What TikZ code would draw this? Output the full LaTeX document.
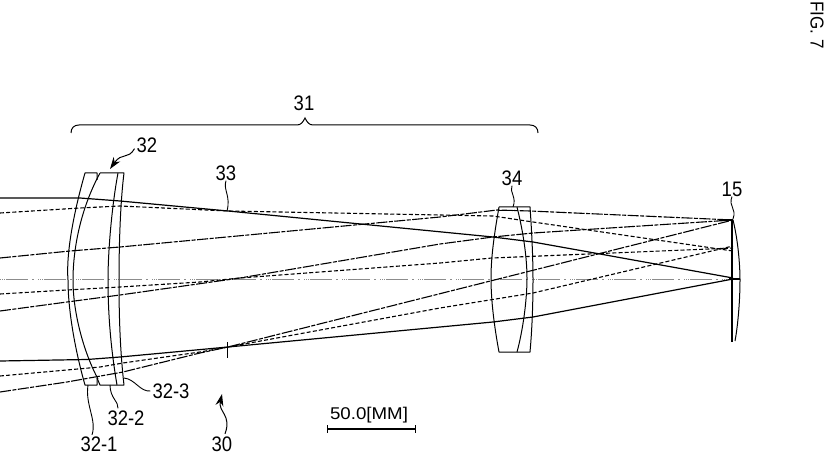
\documentclass[tikz,border=0pt]{standalone}
\usepackage{fontspec}
\setmainfont{Liberation Sans}
\usetikzlibrary{arrows.meta,decorations.pathreplacing}
\tikzset{
 lens/.style={line width=1pt,black,line join=round},
 rayA/.style={line width=1.2pt,black},
 rayB/.style={line width=1.1pt,black,dash pattern=on 11pt off 1.5pt on 4pt off 1.5pt},
 rayC/.style={line width=1.1pt,black,dash pattern=on 4pt off 2.2pt},
 axisline/.style={line width=.6pt,black!45,dash pattern=on 1pt off 1pt on 1pt off 1pt on 1pt off 1pt on 22pt off 4pt on 2pt off 4pt},
 leader/.style={line width=.9pt,black},
 pointer/.style={line width=1pt,black,-{Stealth[length=12pt,width=8pt]}},
 lbl/.style={font=\fontsize{21}{21}\selectfont,xscale=.88,inner sep=0pt,text=black},
 sbl/.style={font=\fontsize{17}{17}\selectfont,xscale=1.1,inner sep=0pt,text=black}
}
\begin{document}
\begin{tikzpicture}[x=1pt,y=-1pt]
\useasboundingbox (0,0) rectangle (827,457);
% axis
\draw[axisline] (0,279) -- (740,279);
% rays field A
\draw[rayA] (0,198) -- (80,198) -- (120,201) -- (228,211) -- (493,237) -- (533,242) -- (600,254) -- (733,278);
\draw[rayA] (0,361) -- (87,359.5) -- (120,357) -- (228,347) -- (493,322) -- (533,317) -- (733,279);
% rays field B
\draw[rayB] (0,258) -- (70,251) -- (120,247) -- (440,217) -- (497,210) -- (530,211) -- (733,220);
\draw[rayB] (0,311) -- (67,302) -- (120,295) -- (240,278) -- (440,244) -- (493,237) -- (533,233) -- (733,220);
\draw[rayB] (0,392) -- (67,382) -- (123,372) -- (200,353) -- (228,347) -- (733,220);
% rays field C
\draw[rayC] (0,213) -- (80,208) -- (120,206) -- (228,211) -- (493,216) -- (533,222) -- (733,251);
\draw[rayC] (0,294) -- (67,290) -- (120,287) -- (200,282) -- (240,278) -- (440,263) -- (492,258) -- (733,248);
\draw[rayC] (0,376) -- (100,367) -- (123,363) -- (200,352) -- (228,347) -- (440,308) -- (533,293) -- (733,246);
% lens 32
\draw[lens] (97,180) -- (97,173) -- (85,173) .. controls (73,215) and (66,255) .. (68,280) .. controls (68,310) and (75,350) .. (85,385) -- (97,385) -- (97,378);
\draw[lens] (100,173) .. controls (80,210) and (73,250) .. (73,280) .. controls (73,315) and (85,355) .. (98,379);
\draw[lens] (100,173) -- (124,173) .. controls (120,205) and (119,250) .. (119,280) .. controls (119,315) and (120,350) .. (124,385) -- (100,385) -- (97,378);
\draw[lens] (118,173) .. controls (112,205) and (108,250) .. (108,280) .. controls (108,315) and (111,350) .. (117,385);
% lens 34
\draw[lens] (499,207) -- (530,207) .. controls (532,235) and (533,260) .. (533,280) .. controls (533,305) and (532,330) .. (530,352) -- (499,352) .. controls (494,325) and (491,300) .. (491,278) .. controls (491,255) and (495,230) .. (499,207);
\draw[lens] (517,207) .. controls (524,235) and (527,260) .. (527,278) .. controls (527,300) and (523,330) .. (517,352);
\draw[line width=.8pt] (499,210) -- (518,210);
% element 15
\draw[line width=2.5pt,black] (732,220) -- (732,342);
\draw[line width=2.5pt,black] (719,220) -- (733,220);
\draw[lens] (733,220) .. controls (738,240) and (740,265) .. (740,280) .. controls (740,300) and (738,325) .. (735,341);
\draw[line width=1.8pt] (729,279) -- (740,279);
% brace
\coordinate (bl) at (71,133);
\coordinate (br) at (538,133);
\draw[line width=1pt] (bl) .. controls (71,128) and (74,125) .. (79,125) -- (297,125) .. controls (301,125) and (303,122) .. (305,118) .. controls (307,122) and (309,125) .. (313,125) -- (530,125) .. controls (535,125) and (538,128) .. (br);
% labels
\node[lbl] (n31) at (304,103) {31};
\node[lbl] (n32) at (147,145) {32};
\node[lbl] (n33) at (226,173) {33};
\node[lbl] (n34) at (512,178) {34};
\node[lbl] (n15) at (732,189) {15};
\node[lbl] (n321) at (99,444.5) {32-1};
\node[lbl] (n322) at (126,418) {32-2};
\node[lbl] (n323) at (171,391) {32-3};
\node[lbl] (n30) at (222,444.5) {30};
\node[sbl] (nscale) at (369,415) {50.0[MM]};
\node[sbl,rotate=-90] (nfig) at (817,25) {FIG. 7};
% anchors
\coordinate (t32) at (110,169);
\coordinate (t33) at (227,211);
\coordinate (t34) at (513,207);
\coordinate (t15) at (733,219);
\coordinate (t321) at (88,385);
\coordinate (t322) at (110,385);
\coordinate (t323) at (124,378);
\coordinate (t30) at (222,394);
% leaders
\draw[pointer] (n32.south west) ++(-2,-4) .. controls (128,160) and (122,152) .. (t32);
\draw[leader] (n33.south) .. controls (223,190) and (231,196) .. (t33);
\draw[leader] (n34.south) .. controls (509,192) and (517,197) .. (t34);
\draw[leader] (n15.south) .. controls (728,207) and (737,208) .. (t15);
\draw[leader] (n321.north) ++(-7,-2) .. controls (97,420) and (85,405) .. (t321);
\draw[leader] (n322.north) ++(-8,-2) .. controls (119,402) and (110,398) .. (t322);
\draw[leader] (n323.west) ++(-2,0) .. controls (140,392) and (135,379) .. (t323);
\draw[pointer] (n30.north) ++(3,-3) .. controls (232,415) and (218,412) .. (t30);
% tick below chief crossing
\coordinate (tk1) at (227,342);
\coordinate (tk2) at (227,358);
\draw[leader] (tk1) -- (tk2);
% scale bar
\coordinate (sb1) at (327,429);
\coordinate (sb2) at (416,429);
\draw[line width=1.2pt,|-|] (sb1) -- (sb2);
\end{tikzpicture}
\end{document}
